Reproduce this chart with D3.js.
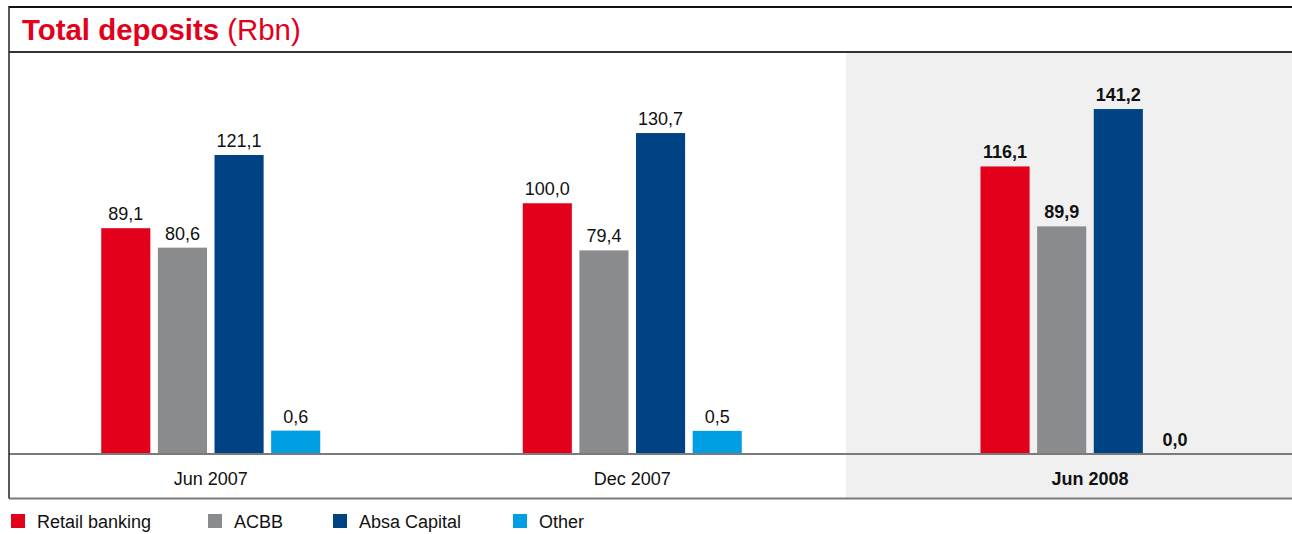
<!DOCTYPE html>
<html>
<head>
<meta charset="utf-8">
<script src="https://cdn.jsdelivr.net/npm/d3@7"></script>
<style>
  html, body { margin: 0; padding: 0; background: #fff; }
  svg { display: block; font-family: "Liberation Sans", Arial, Helvetica, sans-serif; }
</style>
</head>
<body>
<svg id="chart" width="1292" height="534"></svg>
<script>
// Total deposits by business unit, Rbn
const periods = ["Jun 2007", "Dec 2007", "Jun 2008"];
const highlightPeriod = "Jun 2008";
const seriesNames = ["Retail banking", "ACBB", "Absa Capital", "Other"];
const retailBanking = [89.1, 100.0, 116.1];
const acbb = [80.6, 79.4, 89.9];
const absaCapital = [121.1, 130.7, 141.2];
const other = [0.6, 0.5, 0.0];
const seriesColors = ["#e2001a", "#8a8b8c", "#004385", "#009fe3"];

const seriesValues = [retailBanking, acbb, absaCapital, other];
const fmt = v => v.toFixed(1).replace(".", ",");

const W = 1292, H = 534;
const frameLeft = 9, frameTop = 7, titleRule = 52, baseY = 453.5, bottomRule = 498.5;
const shadeX = 846, shadeW = 488;

const svg = d3.select("#chart");

// highlighted period panel
svg.append("rect")
  .attr("x", shadeX).attr("y", titleRule + 1)
  .attr("width", W - shadeX).attr("height", bottomRule - titleRule - 1)
  .attr("fill", "#eff0ef");

// value axis: floor sits a little below zero so short bars stay visible
const y = d3.scaleLinear().domain([-9.4, 165.7]).range([baseY, titleRule + 1]);

// periods: earlier ones share the white area, the latest fills the shaded panel
const xHist = d3.scaleBand().domain(periods.filter(p => p !== highlightPeriod)).range([0, shadeX - 3]);
const xHi = d3.scaleBand().domain([highlightPeriod]).range([shadeX, shadeX + shadeW]);
const center = p => p === highlightPeriod ? xHi(p) + xHi.bandwidth() / 2 : xHist(p) + xHist.bandwidth() / 2;

const inner = d3.scaleBand().domain(seriesNames).range([-109.5, 109.5]).paddingInner(0.133);

const rows = [];
periods.forEach((p, i) => {
  seriesNames.forEach((s, j) => {
    rows.push({ period: p, series: s, value: seriesValues[j][i], color: seriesColors[j] });
  });
});

const g = svg.append("g");

g.selectAll("rect.bar")
  .data(rows.filter(d => d.value > 0))
  .join("rect")
  .attr("class", "bar")
  .attr("x", d => center(d.period) + inner(d.series))
  .attr("width", inner.bandwidth())
  .attr("y", d => y(d.value))
  .attr("height", d => baseY - y(d.value))
  .attr("fill", d => d.color);

g.selectAll("text.val")
  .data(rows)
  .join("text")
  .attr("class", "val")
  .attr("x", d => center(d.period) + inner(d.series) + inner.bandwidth() / 2)
  .attr("y", d => (d.value > 0 ? y(d.value) : baseY) - 8)
  .attr("text-anchor", "middle")
  .attr("font-size", 18)
  .attr("font-weight", d => d.period === highlightPeriod ? "bold" : "normal")
  .attr("fill", "#111")
  .text(d => fmt(d.value));

// rules and frame
svg.append("line").attr("x1", frameLeft).attr("x2", W).attr("y1", baseY + 0.5).attr("y2", baseY + 0.5)
  .attr("stroke", "#7a7a7a").attr("stroke-width", 2);
svg.append("line").attr("x1", frameLeft).attr("x2", W).attr("y1", bottomRule).attr("y2", bottomRule)
  .attr("stroke", "#7a7a7a").attr("stroke-width", 2);
svg.append("line").attr("x1", frameLeft).attr("x2", W).attr("y1", titleRule).attr("y2", titleRule)
  .attr("stroke", "#333", ).attr("stroke-width", 2);
svg.append("line").attr("x1", frameLeft).attr("x2", W).attr("y1", frameTop).attr("y2", frameTop)
  .attr("stroke", "#111").attr("stroke-width", 2);
svg.append("line").attr("x1", frameLeft).attr("x2", frameLeft).attr("y1", frameTop - 1).attr("y2", bottomRule)
  .attr("stroke", "#222").attr("stroke-width", 1.5);

// period labels
svg.selectAll("text.cat")
  .data(periods)
  .join("text")
  .attr("class", "cat")
  .attr("x", d => center(d))
  .attr("y", 485)
  .attr("text-anchor", "middle")
  .attr("font-size", 18)
  .attr("font-weight", d => d === highlightPeriod ? "bold" : "normal")
  .attr("fill", "#111")
  .text(d => d);

// title
const title = svg.append("text").attr("x", 22).attr("y", 40).attr("font-size", 29.4).attr("fill", "#e2001a");
title.append("tspan").attr("font-weight", "bold").text("Total deposits");
title.append("tspan").text(" (Rbn)");

// legend
const legendX = [11, 208, 333, 513];
const leg = svg.selectAll("g.leg")
  .data(seriesNames)
  .join("g")
  .attr("class", "leg")
  .attr("transform", (d, i) => `translate(${legendX[i]},514)`);
leg.append("rect").attr("width", 14).attr("height", 14).attr("fill", (d, i) => seriesColors[i]);
leg.append("text").attr("x", 26).attr("y", 13.5).attr("font-size", 18).attr("fill", "#111").text(d => d);
</script>
</body>
</html>
